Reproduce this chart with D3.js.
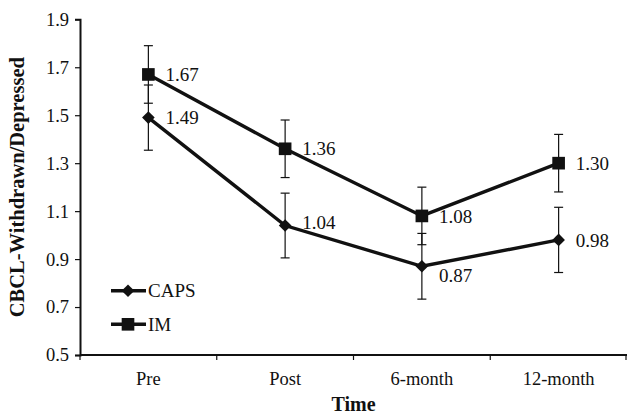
<!DOCTYPE html>
<html lang="en">
<head>
<meta charset="UTF-8">
<title>CBCL Withdrawn/Depressed</title>
<script src="https://d3js.org/d3.v7.min.js"></script>
<style>
body{margin:0; background:#fff;}
svg{display:block; font-family:"Liberation Serif","Times New Roman",serif;}
</style>
</head>
<body>
<div class="chart"></div>
<script>
// data
var categories = ["Pre", "Post", "6-month", "12-month"];
var caps = [1.49, 1.04, 0.87, 0.98];
var capsErr = [0.136, 0.135, 0.137, 0.136];
var im = [1.67, 1.36, 1.08, 1.30];
var imErr = [0.12, 0.12, 0.12, 0.12];
var yTicks = [0.5, 0.7, 0.9, 1.1, 1.3, 1.5, 1.7, 1.9];

var w = 627, h = 416;
var plotL = 80, plotR = 627, plotT = 19.3, plotB = 355;
var ink = "#111";

var svg = d3.select(".chart").append("svg")
	.attr("width", w)
	.attr("height", h);

var x = d3.scaleBand().domain(categories).range([plotL, plotR]);
var y = d3.scaleLinear().domain([0.5, 1.9]).range([plotB, plotT]);
var cx = function(c){ return x(c) + x.bandwidth() / 2; };

// y axis
var yAxis = svg.append("g")
	.attr("transform", "translate(" + plotL + ",0)")
	.call(d3.axisLeft(y).tickValues(yTicks).tickFormat(d3.format(".1f")).tickSize(5).tickPadding(6));
yAxis.select(".domain").attr("stroke", ink).attr("stroke-width", 2);
yAxis.selectAll(".tick line").attr("stroke", ink).attr("stroke-width", 1.2);
yAxis.selectAll("text").attr("font-size", "18.5px").attr("fill", ink).attr("font-family", "Liberation Serif");

// x axis (ticks sit on band edges)
var xg = svg.append("g");
xg.append("line")
	.attr("x1", plotL).attr("x2", plotR)
	.attr("y1", plotB).attr("y2", plotB)
	.attr("stroke", ink).attr("stroke-width", 2);
var edges = categories.map(function(c){ return x(c); }).concat([plotR - 1]);
xg.selectAll(".xt").data(edges).enter().append("line")
	.attr("x1", function(d){ return d; }).attr("x2", function(d){ return d; })
	.attr("y1", plotB).attr("y2", plotB + 5)
	.attr("stroke", ink).attr("stroke-width", 1.2);
xg.selectAll(".xl").data(categories).enter().append("text")
	.attr("x", cx)
	.attr("y", plotB + 30)
	.attr("text-anchor", "middle")
	.attr("font-size", "18.5px")
	.attr("fill", ink)
	.text(function(d){ return d; });

// axis titles
svg.append("text")
	.attr("x", (plotL + plotR) / 2)
	.attr("y", 411)
	.attr("text-anchor", "middle")
	.attr("font-weight", "bold")
	.attr("font-size", "20px")
	.attr("fill", ink)
	.text("Time");

svg.append("text")
	.attr("transform", "translate(24," + ((plotT + plotB) / 2) + ") rotate(-90)")
	.attr("text-anchor", "middle")
	.attr("font-weight", "bold")
	.attr("font-size", "20.5px")
	.attr("fill", ink)
	.text("CBCL-Withdrawn/Depressed");

// diamond = square turned 45deg (d3's diamond is too tall)
var series = [
	{name: "CAPS", values: caps, err: capsErr, size: 80, rot: 45},
	{name: "IM", values: im, err: imErr, size: 160, rot: 0}
];

// error bars first
series.forEach(function(s){
	var g = svg.append("g");
	s.values.forEach(function(v, i){
		var px = cx(categories[i]);
		var y1 = y(v + s.err[i]), y2 = y(v - s.err[i]);
		g.append("line").attr("x1", px).attr("x2", px).attr("y1", y1).attr("y2", y2)
			.attr("stroke", ink).attr("stroke-width", 1.2);
		[y1, y2].forEach(function(yy){
			g.append("line").attr("x1", px - 4.5).attr("x2", px + 4.5).attr("y1", yy).attr("y2", yy)
				.attr("stroke", ink).attr("stroke-width", 1.2);
		});
	});
});

var line = d3.line()
	.x(function(d, i){ return cx(categories[i]); })
	.y(function(d){ return y(d); });

// label nudges (px) so numbers do not sit on the lines
var nudge = {"CAPS": [0, -3, 9, 0], "IM": [0, 0, 0, 0]};

series.forEach(function(s){
	svg.append("path")
		.datum(s.values)
		.attr("d", line)
		.attr("fill", "none")
		.attr("stroke", ink)
		.attr("stroke-width", 3.4)
		.attr("stroke-linejoin", "miter");

	svg.selectAll(".m" + s.name).data(s.values).enter().append("path")
		.attr("transform", function(d, i){ return "translate(" + cx(categories[i]) + "," + y(d) + ") rotate(" + s.rot + ")"; })
		.attr("d", d3.symbol().type(d3.symbolSquare).size(s.size))
		.attr("fill", ink);

	svg.selectAll(".v" + s.name).data(s.values).enter().append("text")
		.attr("x", function(d, i){ return cx(categories[i]) + 17; })
		.attr("y", function(d, i){ return y(d) + nudge[s.name][i]; })
		.attr("dy", "0.35em")
		.attr("font-size", "19px")
		.attr("fill", ink)
		.text(function(d){ return d3.format(".2f")(d); });
});

// legend
var legend = svg.append("g");
series.forEach(function(s, i){
	var ly = 290.7 + i * 33.6;
	legend.append("line").attr("x1", 111).attr("x2", 146).attr("y1", ly).attr("y2", ly)
		.attr("stroke", ink).attr("stroke-width", 3.4);
	legend.append("path")
		.attr("transform", "translate(128," + ly + ") rotate(" + s.rot + ")")
		.attr("d", d3.symbol().type(d3.symbolSquare).size(s.size))
		.attr("fill", ink);
	legend.append("text")
		.attr("x", 148).attr("y", ly).attr("dy", "0.35em")
		.attr("font-size", "19px").attr("fill", ink)
		.text(s.name);
});
</script>
</body>
</html>
